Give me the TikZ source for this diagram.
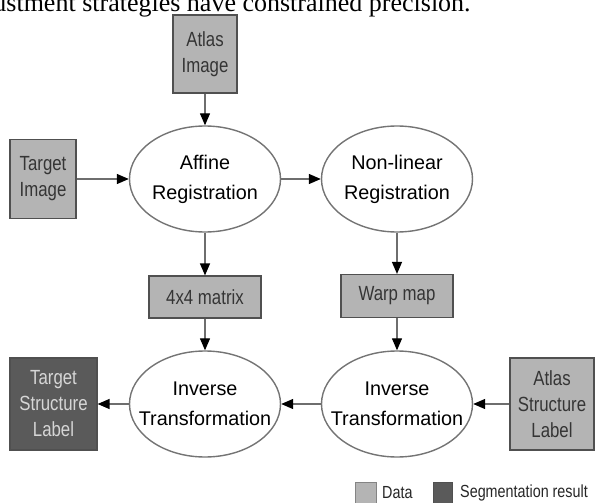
\documentclass[tikz,border=0pt]{standalone}
\usepackage{fontspec}
\setmainfont{Liberation Serif}
\newfontfamily\lsans{Liberation Sans}
\newfontfamily\nsans[FakeStretch=0.82]{Liberation Sans}
\usetikzlibrary{arrows.meta,shapes.geometric}
\definecolor{boxfill}{HTML}{B4B4B4}
\definecolor{boxline}{HTML}{505050}
\definecolor{darkfill}{HTML}{5A5A5A}
\definecolor{darktext}{HTML}{D6D6D6}
\definecolor{boxtext}{HTML}{353535}
\definecolor{elline}{HTML}{747474}
\definecolor{arrline}{HTML}{6E6E6E}
\tikzset{
  proc/.style={ellipse, draw=elline, line width=1.4pt, fill=white, inner sep=0pt,
    minimum width=151pt, minimum height=106pt,
    label={[align=center, inner sep=0pt, font=\lsans\fontsize{19.8pt}{30pt}\selectfont]center:#1}},
  databox/.style={rectangle, draw=boxline, line width=1.2pt, fill=boxfill, inner sep=0pt,
    align=center, text=boxtext, font=\nsans\fontsize{20.5pt}{26pt}\selectfont},
  resbox/.style={databox, fill=darkfill, text=darktext},
  flow/.style={draw=arrline, line width=1.3pt, -{Triangle[length=12pt,width=10pt,fill=black,color=black]}},
  legtext/.style={anchor=west, inner sep=0pt, text=black!85, font=\nsans\fontsize{17.5pt}{20pt}\selectfont}
}
\begin{document}
\begin{tikzpicture}[x=1pt,y=-1pt]
\useasboundingbox (0,0) rectangle (595,503);
\clip (0,0) rectangle (595,503);
\fill[white] (0,0) rectangle (595,503);
\node[anchor=base west, inner sep=0pt, font=\fontsize{26pt}{30pt}\selectfont] (cap) at (-14,12) {justment strategies have constrained precision.};
% nodes
\node[databox, minimum width=64pt, minimum height=78pt] (atlas) at (205,54) {Atlas\\Image};
\node[databox, minimum width=66pt, minimum height=79pt] (timg) at (43,179) {Target\\Image};
\node[proc={Affine\\Registration}] (aff) at (205,179) {};
\node[proc={Non-linear\\Registration}] (nonlin) at (397,179) {};
\node[databox, minimum width=112pt, minimum height=42pt] (mat) at (205,297) {4x4 matrix};
\node[databox, minimum width=112pt, minimum height=43pt] (warp) at (397,296) {Warp map};
\node[proc={Inverse\\Transformation}] (invl) at (205,404) {};
\node[proc={Inverse\\Transformation}] (invr) at (397,404) {};
\node[resbox, minimum width=87pt, minimum height=92pt] (tsl) at (53.5,404) {Target\\Structure\\Label};
\node[databox, minimum width=84pt, minimum height=92pt] (asl) at (552,404) {Atlas\\Structure\\Label};
% connectors
\draw[flow] (atlas.south) -- (aff.north);
\draw[flow] (timg.east) -- (aff.west);
\draw[flow] (aff.east) -- (nonlin.west);
\draw[flow] (aff.south) -- (mat.north);
\draw[flow] (nonlin.south) -- (warp.north);
\draw[flow] (mat.south) -- (invl.north);
\draw[flow] (warp.south) -- (invr.north);
\draw[flow] (asl.west) -- (invr.east);
\draw[flow] (invr.west) -- (invl.east);
\draw[flow] (invl.west) -- (tsl.east);
% legend
\node[rectangle, draw=boxline!70, line width=1pt, fill=boxfill, minimum width=21pt, minimum height=22pt, inner sep=0pt] (legdata) at (365.5,493) {};
\node[legtext] (legdatat) at (382,493) {Data};
\node[rectangle, draw=boxline, line width=1pt, fill=darkfill, minimum width=19pt, minimum height=21pt, inner sep=0pt] (legseg) at (442.5,492.5) {};
\node[legtext] (legsegt) at (460,493) {Segmentation result};
\end{tikzpicture}
\end{document}
